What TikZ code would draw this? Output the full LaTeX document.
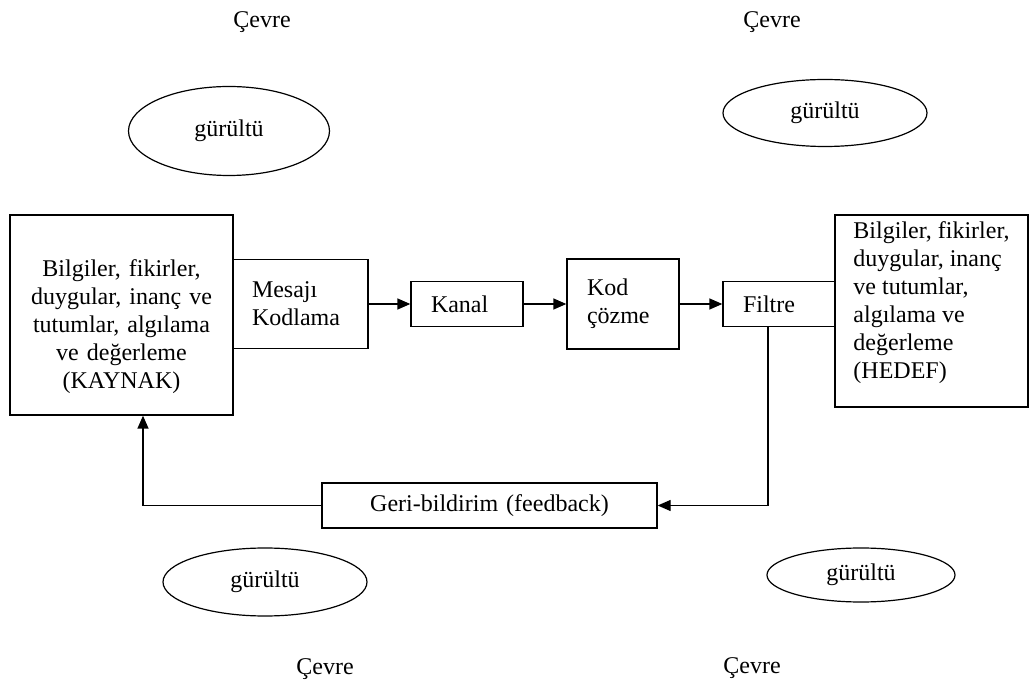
\documentclass[tikz,border=0pt]{standalone}
\usepackage{fontspec}
\setmainfont{Liberation Serif}
\usetikzlibrary{positioning, shapes.geometric, arrows.meta}

\tikzset{
  box/.style={draw, line width=1.3pt, align=left, inner xsep=20pt, inner ysep=0pt},
  noise/.style={draw, ellipse, line width=1.2pt, inner sep=0pt},
}

\begin{document}
\begin{tikzpicture}[x=1pt, y=-1pt, node distance=156pt, on grid,
    font=\fontsize{24}{28}\selectfont, >={Triangle[length=13pt,width=11pt]}]
      \useasboundingbox (0,0) rectangle (1029,684);
      \node[box, text width=97pt, inner xsep=19pt, minimum height=89pt] (enc) at (300.5,304) {Mesajı\\Kodlama};
      \node[box, text width=72pt, minimum height=45pt, right=166.5pt of enc] (kanal) {Kanal};
      \node[box, text width=72pt, minimum height=90pt, right=of kanal] (kod) {Kod\\çözme};
      \node[box, text width=72pt, minimum height=45pt, right=of kod] (flt) {Filtre};
      \node[box, inner xsep=15pt, minimum width=193pt, minimum height=192pt, right=152.5pt of flt, yshift=-7pt] (dst)
        {Bilgiler, fikirler,\\duygular, inanç\\ve tutumlar,\\algılama ve\\değerleme\\(HEDEF)\rule[-21pt]{0pt}{0pt}};
      \node[box, align=center, text width=203pt, inner xsep=10pt, minimum height=200pt, left=179pt of enc, yshift=-11pt] (src)
        {\rule{0pt}{41pt}Bilgiler, fikirler,\\duygular, inanç ve\\tutumlar, algılama\\ve değerleme\\(KAYNAK)};
      \node[box, align=center, text width=295pt, minimum height=45pt] (fb) at (489.5,505.5) {Geri-bildirim (feedback)};
      \node[noise, minimum width=201pt, minimum height=89pt] (n1) at (229,131) {gürültü};
      \node[noise, minimum width=204pt, minimum height=67pt] (n2) at (825,113) {gürültü};
      \node[noise, minimum width=204pt, minimum height=68pt] (n3) at (265,582) {gürültü};
      \node[noise, minimum width=188pt, minimum height=54pt] (n4) at (861,575) {gürültü};
      \node (c1) at (262,22) {Çevre};
      \node (c2) at (772,22) {Çevre};
      \node (c3) at (325,669) {Çevre};
      \node (c4) at (752,668) {Çevre};
      \coordinate (fdown) at ([xshift=-11pt]flt.south);
      \coordinate (up) at ([xshift=21.5pt]src.south);
      \path[->, line width=1.3pt]
        (enc) edge (kanal)
        (kanal) edge (kod)
        (kod) edge (flt);
      \draw[->, line width=1.3pt] (fdown) |- (fb);
      \draw[->, line width=1.3pt] (fb) -| (up);
    \end{tikzpicture}
\end{document}
